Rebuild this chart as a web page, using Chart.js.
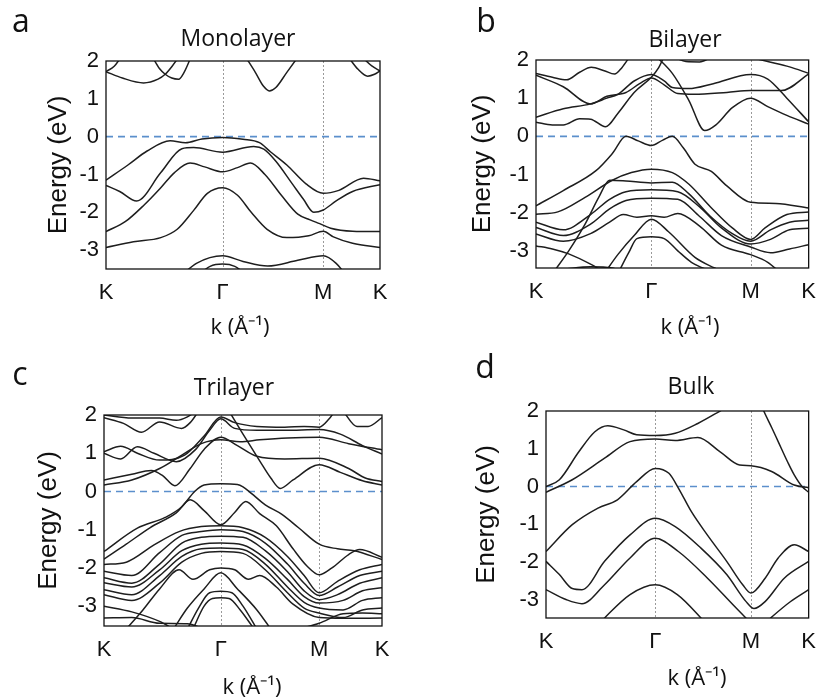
<!DOCTYPE html>
<html>
<head>
<meta charset="utf-8">
<script src="https://cdn.jsdelivr.net/npm/chart.js@4.4.1/dist/chart.umd.min.js"></script>
<style>
  body { margin: 0; background: #fff; }
  #page { position: relative; width: 827px; height: 699px; overflow: hidden; background: #fff; }
  .panel { position: absolute; }
  .lbl { position: absolute; transform: translate(-50%, -50%); white-space: nowrap; line-height: 1; color: #111; font-family: 'Open Sans', sans-serif; }
  .letter { font-size: 32px; }
  .ttl { font-size: 23px; }
  .kx { font-size: 22px; }
</style>
</head>
<body>
<div id="page">
  <div class="panel" style="left:0;top:0"><canvas id="cA" width="410" height="340"></canvas></div>
  <div class="panel" style="left:410px;top:0"><canvas id="cB" width="417" height="340"></canvas></div>
  <div class="panel" style="left:0;top:340px"><canvas id="cC" width="410" height="359"></canvas></div>
  <div class="panel" style="left:410px;top:340px"><canvas id="cD" width="417" height="359"></canvas></div>

  <div class="lbl letter" style="left:21px;top:20px">a</div>
  <div class="lbl letter" style="left:486px;top:20px">b</div>
  <div class="lbl letter" style="left:20px;top:373px">c</div>
  <div class="lbl letter" style="left:485px;top:366px">d</div>

  <div class="lbl ttl" style="left:238px;top:37px">Monolayer</div>
  <div class="lbl ttl" style="left:685px;top:38px">Bilayer</div>
  <div class="lbl ttl" style="left:234px;top:386px">Trilayer</div>
  <div class="lbl ttl" style="left:691px;top:385px">Bulk</div>

  <div class="lbl kx" style="left:240px;top:325px">k (Å⁻¹)</div>
  <div class="lbl kx" style="left:690px;top:325px">k (Å⁻¹)</div>
  <div class="lbl kx" style="left:252px;top:685px">k (Å⁻¹)</div>
  <div class="lbl kx" style="left:697px;top:676px">k (Å⁻¹)</div>
</div>
<script>
  // ---- data: path positions (fraction of K-Γ-M-K), energies in eV ----
  const K_LABELS = ['K', 'Γ', 'M', 'K'];
  const Y_TICKS = [-3, -2, -1, 0, 1, 2];
  const E_MAX = 2;
  const FERMI = 0;

  const MONO_KPTS = [0, 0.4255, 0.793, 1];
  const MONO_EMIN = -3.5;
  const MONO_BANDS = [
    [[0,1.72],[0.06,1.55],[0.137,1.42],[0.19,1.52],[0.216,1.65],[0.24,1.85],[0.265,2.1]],
    [[0,1.72],[0.03,1.86],[0.055,2.1]],
    [[0.17,2.1],[0.195,1.8],[0.216,1.65],[0.24,1.55],[0.265,1.52],[0.285,1.7],[0.31,2.1]],
    [[0.51,2.1],[0.545,1.7],[0.575,1.33],[0.596,1.21],[0.62,1.3],[0.66,1.7],[0.7,2.1]],
    [[0.885,2.1],[0.92,1.78],[0.955,1.6],[0.98,1.65],[1,1.74]],
    [[0.935,2.1],[0.97,1.87],[1,1.74]],
    [[0,-1.15],[0.08,-0.75],[0.15,-0.38],[0.234,-0.11],[0.29,-0.16],[0.35,-0.06],[0.4255,-0.02],[0.5,-0.07],[0.56,-0.16],[0.6,-0.4],[0.66,-0.75],[0.73,-1.25],[0.793,-1.5],[0.85,-1.42],[0.94,-1.1],[1,-1.17]],
    [[0,-1.29],[0.05,-1.45],[0.112,-1.7],[0.2,-0.95],[0.277,-0.32],[0.32,-0.29],[0.4255,-0.41],[0.539,-0.26],[0.576,-0.33],[0.62,-0.65],[0.68,-1.25],[0.72,-1.65],[0.758,-2.0],[0.793,-1.94],[0.84,-1.7],[0.9,-1.45],[1,-1.27]],
    [[0,-2.51],[0.07,-2.25],[0.14,-1.8],[0.2,-1.35],[0.25,-0.95],[0.307,-0.7],[0.36,-0.8],[0.4255,-0.93],[0.48,-0.82],[0.527,-0.7],[0.58,-1.0],[0.64,-1.55],[0.7,-2.05],[0.745,-2.2],[0.78,-2.3],[0.82,-2.42],[0.9,-2.5],[1,-2.51]],
    [[0,-2.93],[0.1,-2.78],[0.2,-2.67],[0.26,-2.45],[0.32,-1.95],[0.37,-1.5],[0.4255,-1.35],[0.48,-1.55],[0.53,-2.0],[0.588,-2.45],[0.66,-2.67],[0.74,-2.62],[0.793,-2.5],[0.83,-2.65],[0.9,-2.82],[1,-2.93]],
    [[0.27,-3.7],[0.33,-3.35],[0.4255,-3.15],[0.5,-3.3],[0.59,-3.42],[0.7,-3.27],[0.793,-3.15],[0.84,-3.35],[0.88,-3.7]],
    [[0.33,-3.7],[0.38,-3.43],[0.4255,-3.37],[0.47,-3.43],[0.52,-3.7]],
  ];

  const BI_KPTS = [0, 0.423, 0.787, 1];
  const BI_EMIN = -3.45;
  const BI_BANDS = [
    [[0,1.65],[0.06,1.55],[0.112,1.48],[0.16,1.68],[0.203,1.81],[0.25,1.72],[0.288,1.63],[0.315,1.8],[0.345,2.1]],
    [[0,1.6],[0.1,1.3],[0.2,0.85],[0.26,1.05],[0.33,1.15],[0.38,1.38],[0.423,1.53],[0.47,1.35],[0.52,1.12],[0.58,1.1],[0.7,1.15],[0.787,1.2],[0.9,1.2],[1,1.63]],
    [[0,0.5],[0.1,0.72],[0.2,0.85],[0.26,1.0],[0.3,1.1],[0.36,1.45],[0.423,1.62],[0.47,1.45],[0.5,1.28],[0.56,1.25],[0.65,1.38],[0.787,1.62],[0.85,1.5],[0.92,1.0],[1,0.38]],
    [[0,0.37],[0.06,0.3],[0.1,0.3],[0.16,0.46],[0.2,0.45],[0.255,0.25],[0.3,0.6],[0.36,1.15],[0.423,1.55],[0.45,1.8],[0.47,2.1]],
    [[0.44,2.1],[0.5,1.65],[0.56,0.95],[0.619,0.15],[0.66,0.3],[0.72,0.75],[0.787,1.0],[0.85,0.78],[0.92,0.55],[1,0.32]],
    [[0.5,2.1],[0.55,1.96],[0.6,1.95],[0.65,2.1]],
    [[0.77,2.1],[0.85,1.96],[0.93,1.82],[1,1.65]],
    [[0,-1.82],[0.1,-1.42],[0.22,-0.9],[0.28,-0.45],[0.33,0],[0.375,-0.12],[0.423,-0.24],[0.465,-0.1],[0.5,0],[0.54,-0.3],[0.583,-0.73],[0.643,-0.92],[0.7,-1.3],[0.787,-1.73],[0.88,-1.76],[1,-1.88]],
    [[0,-2.04],[0.08,-1.98],[0.18,-1.6],[0.28,-1.15],[0.35,-0.95],[0.423,-0.86],[0.5,-0.95],[0.56,-1.25],[0.64,-1.85],[0.72,-2.4],[0.787,-2.7],[0.84,-2.4],[0.92,-2.05],[1,-1.98]],
    [[0.06,-3.6],[0.12,-3.0],[0.18,-2.3],[0.23,-1.6],[0.27,-1.15],[0.33,-1.17],[0.423,-1.22],[0.5,-1.2],[0.56,-1.5],[0.64,-2.1],[0.72,-2.55],[0.787,-2.75],[0.86,-2.45],[0.93,-2.25],[1,-2.2]],
    [[0,-2.25],[0.1,-2.45],[0.2,-2.05],[0.27,-1.65],[0.33,-1.45],[0.423,-1.4],[0.52,-1.45],[0.6,-1.85],[0.68,-2.4],[0.787,-2.82],[0.86,-2.7],[0.93,-2.45],[1,-2.41]],
    [[0,-2.39],[0.1,-2.6],[0.2,-2.3],[0.27,-1.9],[0.33,-1.68],[0.423,-1.62],[0.52,-1.65],[0.6,-2.1],[0.68,-2.6],[0.787,-2.9],[0.86,-3.05],[0.93,-2.95],[1,-2.84]],
    [[0,-2.56],[0.1,-2.75],[0.2,-2.55],[0.27,-2.25],[0.32,-2.05],[0.37,-2.12],[0.423,-2.08],[0.47,-2.12],[0.52,-2.02],[0.6,-2.35],[0.68,-2.85],[0.787,-3.1],[0.85,-3.3],[0.9,-3.6]],
    [[0.25,-3.6],[0.3,-3.1],[0.36,-2.6],[0.423,-2.17],[0.486,-2.5],[0.583,-3.17],[0.655,-3.45],[0.7,-3.6]],
    [[0.3,-3.6],[0.34,-3.05],[0.37,-2.68],[0.423,-2.63],[0.47,-2.68],[0.52,-3.0],[0.57,-3.3],[0.63,-3.5],[0.68,-3.6]],
    [[0,-2.87],[0.06,-2.95],[0.12,-3.08],[0.2,-3.35],[0.26,-3.6]],
    [[0.1,-3.48],[0.2,-3.42],[0.28,-3.45],[0.33,-3.6]],
  ];

  const TRI_KPTS = [0, 0.42, 0.774, 1];
  const TRI_EMIN = -3.52;
  const TRI_BANDS = [
    [[0,1.93],[0.07,1.78],[0.135,1.55],[0.2,1.82],[0.279,1.65],[0.31,1.8],[0.34,2.1]],
    [[0,2.0],[0.1,1.92],[0.2,1.92],[0.26,1.86],[0.3,1.95],[0.33,2.1]],
    [[0,1.04],[0.06,1.18],[0.12,1.0],[0.2,0.82],[0.29,0.95],[0.36,1.45],[0.42,1.95],[0.47,1.8],[0.55,1.7],[0.65,1.68],[0.72,1.7],[0.774,1.68],[0.81,1.9],[0.83,2.1]],
    [[0,1.0],[0.06,0.85],[0.12,1.17],[0.18,1.0],[0.26,0.78],[0.33,1.1],[0.38,1.6],[0.42,1.9],[0.47,1.65],[0.55,1.6],[0.65,1.6],[0.774,1.62],[0.85,1.5],[0.93,1.2],[1,0.98]],
    [[0,0.3],[0.1,0.45],[0.17,0.55],[0.21,0.42],[0.255,0.15],[0.31,0.6],[0.36,1.1],[0.42,1.42],[0.48,1.2],[0.55,0.92],[0.65,0.85],[0.774,0.87],[0.88,0.6],[0.94,0.35],[1,0.26]],
    [[0,0.17],[0.1,0.3],[0.2,0.6],[0.28,0.95],[0.35,1.25],[0.42,1.35],[0.49,1.3],[0.56,1.35],[0.66,1.4],[0.774,1.42],[0.88,1.25],[1,1.09]],
    [[0.45,2.1],[0.5,1.5],[0.56,0.8],[0.6,0.35],[0.634,0.08],[0.68,0.3],[0.774,0.7],[0.85,0.5],[0.93,0.28],[1,0.17]],
    [[0.86,2.1],[0.91,1.7],[0.95,1.7],[1,1.93]],
    [[0,-1.57],[0.12,-0.96],[0.22,-0.68],[0.28,-0.4],[0.326,0],[0.36,0.17],[0.42,0.2],[0.48,0.18],[0.5,0.12],[0.53,-0.05],[0.58,-0.35],[0.64,-0.6],[0.7,-0.95],[0.774,-1.38],[0.84,-1.5],[0.9,-1.55],[1,-1.78]],
    [[0,-1.77],[0.08,-1.38],[0.165,-0.95],[0.26,-0.56],[0.31,-0.22],[0.36,-0.5],[0.42,-0.87],[0.47,-0.55],[0.51,-0.26],[0.56,-0.58],[0.62,-0.9],[0.68,-1.5],[0.73,-1.95],[0.774,-2.18],[0.82,-2.0],[0.88,-1.65],[0.92,-1.52],[1,-1.72]],
    [[0,-1.91],[0.08,-1.85],[0.18,-1.4],[0.27,-1.05],[0.35,-0.92],[0.42,-0.9],[0.5,-0.95],[0.58,-1.2],[0.66,-1.7],[0.72,-2.2],[0.774,-2.65],[0.84,-2.35],[0.92,-2.05],[1,-1.91]],
    [[0,-2.09],[0.1,-2.2],[0.2,-1.6],[0.28,-1.15],[0.35,-1.05],[0.42,-1.0],[0.5,-1.05],[0.58,-1.35],[0.66,-1.9],[0.72,-2.4],[0.774,-2.72],[0.84,-2.5],[0.92,-2.2],[1,-2.09]],
    [[0,-2.26],[0.1,-2.4],[0.2,-1.9],[0.28,-1.35],[0.35,-1.2],[0.42,-1.17],[0.5,-1.2],[0.58,-1.55],[0.66,-2.1],[0.72,-2.6],[0.774,-2.83],[0.84,-2.7],[0.92,-2.4],[1,-2.26]],
    [[0,-2.39],[0.1,-2.5],[0.2,-2.05],[0.28,-1.55],[0.35,-1.38],[0.42,-1.35],[0.5,-1.4],[0.58,-1.75],[0.66,-2.3],[0.72,-2.75],[0.774,-2.92],[0.86,-2.85],[0.93,-2.6],[1,-2.52]],
    [[0,-2.57],[0.1,-2.7],[0.2,-2.2],[0.28,-1.7],[0.35,-1.5],[0.42,-1.48],[0.5,-1.52],[0.58,-1.9],[0.66,-2.5],[0.72,-2.9],[0.774,-3.05],[0.86,-3.1],[0.93,-2.85],[1,-2.78]],
    [[0,-2.7],[0.1,-2.85],[0.2,-2.4],[0.28,-1.85],[0.35,-1.62],[0.42,-1.57],[0.5,-1.62],[0.58,-2.05],[0.66,-2.65],[0.72,-3.05],[0.774,-3.18],[0.86,-3.3],[0.93,-3.1],[1,-3.05]],
    [[0.08,-3.6],[0.14,-3.1],[0.2,-2.55],[0.27,-2.05],[0.32,-2.3],[0.38,-2.05],[0.42,-2.0],[0.47,-2.05],[0.52,-2.3],[0.56,-2.2],[0.62,-2.5],[0.68,-2.95],[0.774,-3.3],[0.86,-3.32],[1,-3.31]],
    [[0.25,-3.6],[0.3,-3.05],[0.36,-2.55],[0.42,-2.13],[0.48,-2.55],[0.55,-3.1],[0.6,-3.6]],
    [[0.3,-3.6],[0.34,-3.05],[0.38,-2.65],[0.42,-2.61],[0.46,-2.65],[0.5,-3.0],[0.55,-3.6]],
    [[0.32,-3.6],[0.36,-3.0],[0.39,-2.8],[0.42,-2.78],[0.45,-2.8],[0.49,-3.1],[0.54,-3.6]],
    [[0,-3.0],[0.1,-3.15],[0.2,-3.4],[0.25,-3.6]],
    [[0,-3.31],[0.1,-3.3],[0.2,-3.45],[0.3,-3.46],[0.36,-3.6]],
    [[0.7,-3.6],[0.774,-3.45],[0.86,-3.2],[0.93,-3.18],[1,-3.2]],
  ];

  const BULK_KPTS = [0, 0.416, 0.78, 1];
  const BULK_EMIN = -3.48;
  const BULK_BANDS = [
    [[0,0],[0.051,0.18],[0.125,0.92],[0.186,1.45],[0.235,1.61],[0.296,1.5],[0.345,1.37],[0.416,1.35],[0.492,1.41],[0.578,1.67],[0.663,2.0],[0.7,2.15]],
    [[0,-0.15],[0.1,0.18],[0.223,0.75],[0.32,1.19],[0.416,1.26],[0.492,1.22],[0.578,1.3],[0.663,0.92],[0.737,0.57],[0.78,0.55],[0.859,0.4],[0.945,0.04],[1,-0.03]],
    [[0.82,2.15],[0.829,2.0],[0.86,1.55],[0.884,1.19],[0.92,0.65],[0.945,0.31],[0.975,0.0],[1,-0.15]],
    [[0,-1.72],[0.1,-1.01],[0.198,-0.57],[0.272,-0.35],[0.345,0.13],[0.416,0.48],[0.468,0.35],[0.504,-0.04],[0.553,-0.66],[0.614,-1.28],[0.688,-1.98],[0.749,-2.6],[0.78,-2.82],[0.835,-2.42],[0.884,-1.89],[0.945,-1.54],[1,-1.72]],
    [[0,-1.98],[0.051,-2.33],[0.1,-2.7],[0.137,-2.73],[0.223,-1.98],[0.32,-1.28],[0.416,-0.84],[0.492,-1.06],[0.59,-1.63],[0.688,-2.33],[0.761,-3.04],[0.792,-3.23],[0.835,-3.04],[0.908,-2.42],[1,-1.98]],
    [[0,-2.73],[0.076,-2.99],[0.137,-3.1],[0.223,-2.6],[0.32,-1.89],[0.416,-1.37],[0.504,-1.72],[0.614,-2.42],[0.712,-3.13],[0.761,-3.48],[0.79,-3.7],[0.82,-3.7],[0.86,-3.45],[0.93,-3.05],[1,-2.73]],
    [[0.18,-3.8],[0.223,-3.48],[0.32,-2.86],[0.416,-2.6],[0.5,-2.86],[0.59,-3.48],[0.63,-3.8]],
  ];

  // ---- drawing ----
  const TICK_FONT = { family: 'Liberation Sans, Arial, sans-serif', size: 22 };
  const INK = '#111';

  const framePlugin = {
    id: 'frame',
    beforeDatasetsDraw(chart) {
      const { ctx, chartArea: a, scales: { x } } = chart;
      ctx.save();
      ctx.strokeStyle = '#9a9a9a'; ctx.lineWidth = 1; ctx.setLineDash([2, 2]);
      x.ticks.slice(1, 3).forEach((t) => {
        const px = Math.round(x.getPixelForValue(t.value)) + 0.5;
        ctx.beginPath(); ctx.moveTo(px, a.top); ctx.lineTo(px, a.bottom); ctx.stroke();
      });
      ctx.restore();
    },
    afterDatasetsDraw(chart) {
      const { ctx, chartArea: a } = chart;
      ctx.save();
      ctx.strokeStyle = '#111'; ctx.lineWidth = 1.3;
      ctx.strokeRect(a.left, a.top, a.right - a.left, a.bottom - a.top);
      ctx.restore();
    },
  };

  function bandChart(id, kpts, bands, eMin, box) {
    const datasets = bands.map((b) => ({
      data: b.map((p) => ({ x: p[0], y: p[1] })),
      borderColor: '#1e1e1e', borderWidth: 1.5, pointRadius: 0,
      cubicInterpolationMode: 'monotone', fill: false,
    }));
    datasets.push({
      data: [{ x: 0, y: FERMI }, { x: 1, y: FERMI }],
      borderColor: '#5b8fcc', borderWidth: 1.6, borderDash: [7, 5], pointRadius: 0,
    });
    new Chart(document.getElementById(id), {
      type: 'line',
      data: { datasets },
      options: {
        responsive: false, animation: false, events: [],
        layout: { padding: { left: 0, top: box.top, right: box.right, bottom: 0 } },
        plugins: { legend: { display: false }, tooltip: { enabled: false } },
        scales: {
          x: {
            type: 'linear', min: 0, max: 1,
            afterBuildTicks: (s) => { s.ticks = kpts.map((v) => ({ value: v })); },
            afterFit: (s) => { s.height = box.bottom; },
            ticks: { callback: (v, i) => K_LABELS[i], color: INK, font: TICK_FONT, padding: 11, maxRotation: 0, autoSkip: false },
            grid: { display: false, drawTicks: false }, border: { display: false },
          },
          y: {
            type: 'linear', min: eMin, max: E_MAX,
            afterBuildTicks: (s) => { s.ticks = Y_TICKS.map((v) => ({ value: v })); },
            afterFit: (s) => { s.width = box.left; },
            ticks: { color: INK, font: TICK_FONT, padding: 7 },
            grid: { display: false, drawTicks: false }, border: { display: false },
            title: {
              display: true, text: 'Energy (eV)', color: INK,
              font: { family: 'Liberation Sans, Arial, sans-serif', size: 26 },
              padding: { top: box.titleX - 15.6, bottom: 0 },
            },
          },
        },
      },
      plugins: [framePlugin],
    });
  }

  bandChart('cA', MONO_KPTS, MONO_BANDS, MONO_EMIN, { left: 106, top: 61, right: 30, bottom: 71, titleX: 59 });
  bandChart('cB', BI_KPTS, BI_BANDS, BI_EMIN, { left: 126, top: 60, right: 15, bottom: 72, titleX: 73 });
  bandChart('cC', TRI_KPTS, TRI_BANDS, TRI_EMIN, { left: 104, top: 75, right: 28, bottom: 73, titleX: 49 });
  bandChart('cD', BULK_KPTS, BULK_BANDS, BULK_EMIN, { left: 136, top: 71, right: 9, bottom: 81, titleX: 77 });
</script>
</body>
</html>
